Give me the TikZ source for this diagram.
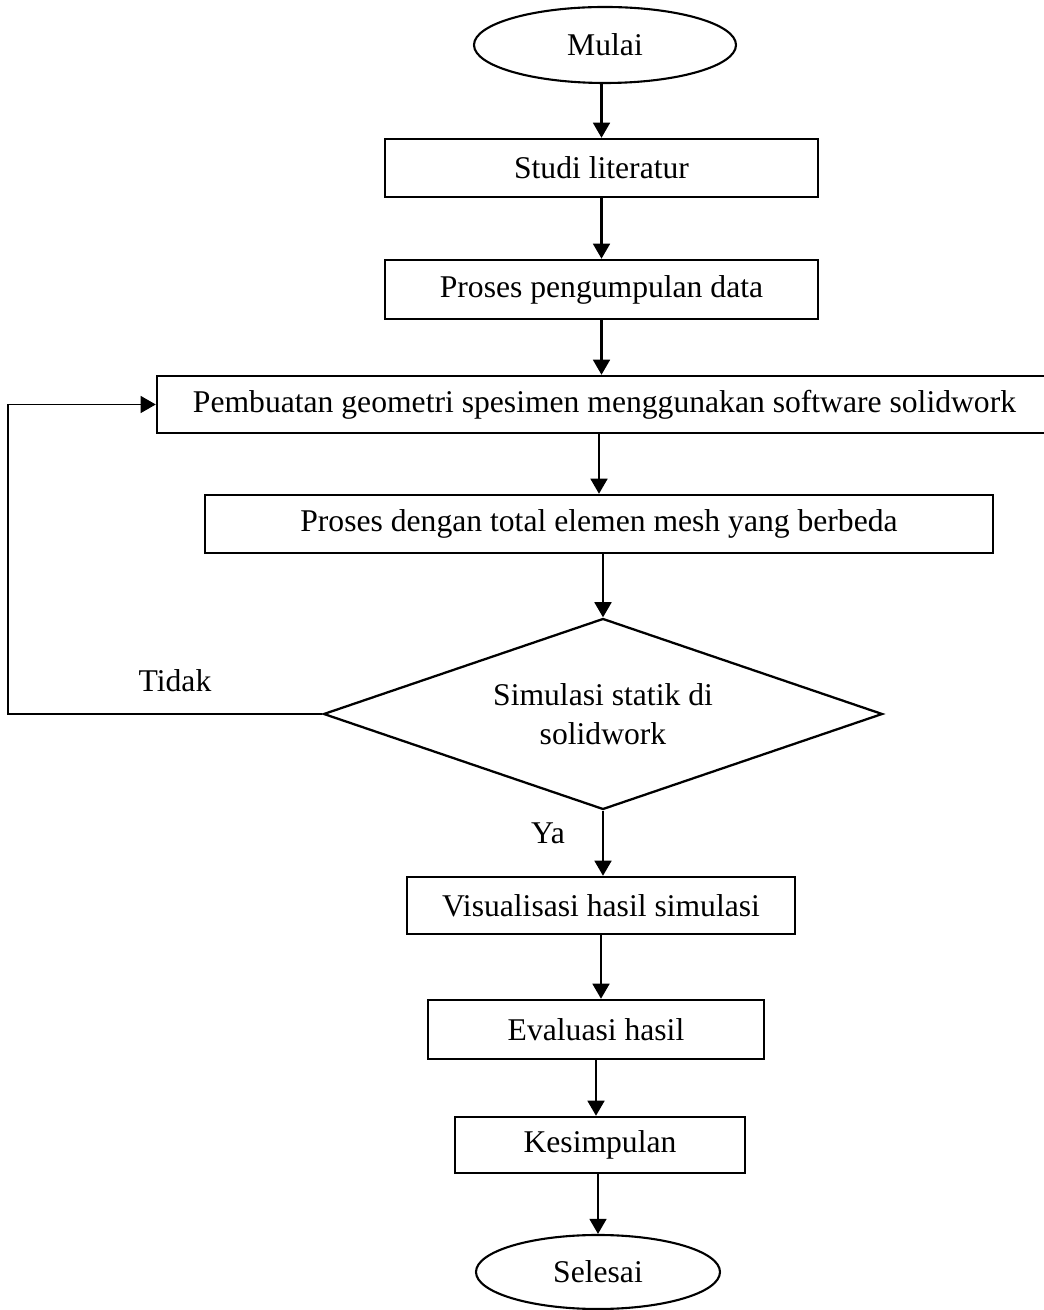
\documentclass[tikz,border=0pt]{standalone}
\usepackage{fontspec}
\setmainfont{Liberation Serif}
\usetikzlibrary{shapes.geometric,arrows.meta}

\tikzset{
    stepbox/.style={draw, line width=1.4pt, rectangle, inner sep=0pt, align=center},
    terminal/.style={draw, line width=1.2pt, ellipse, inner sep=0pt},
    decision/.style={draw, line width=1.3pt, diamond, inner sep=0pt, aspect=2.9, align=center},
    flow/.style={line width=1.3pt, -{Triangle[width=9.6pt,length=8.6pt]}},
    backflow/.style={line width=1pt, -{Triangle[width=9.6pt,length=8.6pt]}}
}

\begin{document}
\begin{tikzpicture}[font=\fontsize{18}{22}\selectfont]

    % === FRAME ===
    \useasboundingbox (0,0) rectangle (20.88,26.2);
    \clip (0,0) rectangle (20.88,26.2);

    % === NODES ===
    % Start
    \node[terminal, minimum width=5.24cm, minimum height=1.52cm] (mulai) at (12.10,25.30) {Mulai};

    % Process steps
    \node[stepbox, minimum width=8.66cm, minimum height=1.16cm] (studi) at (12.03,22.84) {Studi literatur};
    \node[stepbox, minimum width=8.66cm, minimum height=1.18cm] (data) at (12.03,20.41) {Proses pengumpulan data};
    \node[stepbox, minimum width=17.90cm, minimum height=1.14cm] (geom) at (12.09,18.11)
        {Pembuatan geometri spesimen menggunakan software solidwork};
    \node[stepbox, minimum width=15.76cm, minimum height=1.16cm] (mesh) at (11.98,15.72)
        {Proses dengan total elemen mesh yang berbeda};

    % Decision
    \node[decision, minimum width=11.18cm, minimum height=3.82cm] (sim) at (12.06,11.92)
        {Simulasi statik di\\solidwork};

    % Result steps
    \node[stepbox, minimum width=7.76cm, minimum height=1.14cm] (visual) at (12.02,8.09) {Visualisasi hasil simulasi};
    \node[stepbox, minimum width=6.72cm, minimum height=1.18cm] (eval) at (11.92,5.61) {Evaluasi hasil};
    \node[stepbox, minimum width=5.80cm, minimum height=1.12cm] (kesim) at (12.00,3.30) {Kesimpulan};

    % End
    \node[terminal, minimum width=4.88cm, minimum height=1.48cm] (selesai) at (11.96,0.76) {Selesai};

    % === CONNECTORS ===
    \draw[flow] (mulai.south -| studi) -- (studi.north);
    \draw[flow] (studi.south) -- (studi.south |- data.north);
    \draw[flow] (data.south) -- (data.south |- geom.north);
    \draw[flow] (geom.south -| mesh) -- (mesh.north);
    \draw[flow] (mesh.south -| sim) -- (sim.north);
    \draw[flow] (sim.south) -- (sim.south |- visual.north);
    \draw[flow] (visual.south) -- (visual.south |- eval.north);
    \draw[flow] (eval.south) -- (eval.south |- kesim.north);
    \draw[flow] (kesim.south -| selesai) -- (selesai.north);

    % Loop back (Tidak)
    \coordinate (back) at (0.16,11.92);
    \draw[backflow] (sim.west) -- (back) |- (geom.west);

    % === LABELS ===
    \node (tidak) at (3.50,12.58) {Tidak};
    \node (ya) at (10.96,9.54) {Ya};

\end{tikzpicture}
\end{document}
